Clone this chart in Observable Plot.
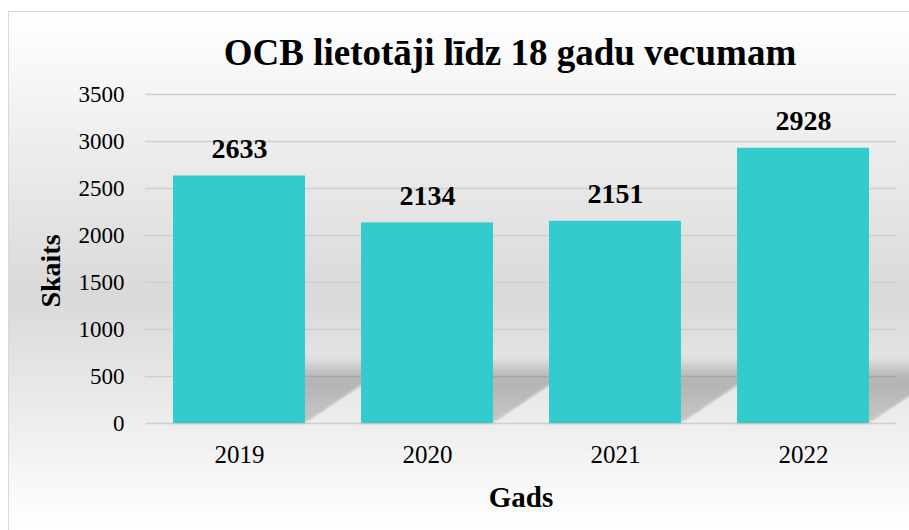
<!DOCTYPE html>
<html><head><meta charset="utf-8">
<script src="https://cdn.jsdelivr.net/npm/d3@7"></script>
<script src="https://cdn.jsdelivr.net/npm/@observablehq/plot@0.6"></script>
<style>
html,body{margin:0;padding:0;width:909px;height:530px;overflow:hidden;background:#fff;}
#frame{position:absolute;left:8px;top:11px;width:920px;height:519px;box-sizing:border-box;border-left:1px solid #d9d9d9;border-top:1px solid #d9d9d9;background:linear-gradient(to bottom,#ffffff 0%,#d9d9d9 55%,#ffffff 100%);}
#title{position:absolute;left:10px;top:34px;width:1000px;text-align:center;font-family:"Liberation Serif","Times New Roman",serif;font-weight:bold;font-size:37px;line-height:37px;color:#000;white-space:nowrap;}
#chart{position:absolute;left:0;top:80px;}
</style>
</head><body>
<div id="frame"></div>
<div id="title">OCB lietotāji līdz 18 gadu vecumam</div>
<div id="chart"></div>
<script>
const years = ["2019", "2020", "2021", "2022"];
const counts = [2633, 2134, 2151, 2928];
const yTicks = [0, 500, 1000, 1500, 2000, 2500, 3000, 3500];
const xTitle = "Gads";
const yTitle = "Skaits";
const shadowHeight = 700; // styling: height of the floor shadow in data units

const data = years.map((year, i) => ({year, count: counts[i]}));

const plot = Plot.plot({
  width: 909,
  height: 450,
  marginTop: 14,
  marginBottom: 107,
  marginLeft: 145,
  marginRight: 13,
  style: {background: "transparent", fontFamily: "'Liberation Serif','Times New Roman',serif", color: "#000", overflow: "visible"},
  x: {domain: years, paddingInner: 0.3, paddingOuter: 0.14, label: null},
  y: {domain: [0, 3500], label: null},
  marks: [
    Plot.gridY(yTicks, {stroke: "#cfcfcf", strokeOpacity: 1, strokeWidth: 1.3}),
    Plot.barY(data, {x: "year", y1: () => 0, y2: () => shadowHeight, fill: "url(#shadowGrad)"}),
    Plot.barY(data, {x: "year", y: "count", fill: "#33CCCC"}),
    Plot.text(data, {x: "year", y: "count", text: d => String(d.count), dy: -18, lineAnchor: "bottom", fontSize: 28, fontWeight: "bold", fill: "#000"}),
    Plot.axisY(yTicks, {tickSize: 0, tickPadding: 21, fontSize: 23, tickFormat: d => String(d), label: null}),
    Plot.axisX({tickSize: 0, tickPadding: 22, fontSize: 25, label: null}),
    Plot.text([yTitle], {text: d => d, frameAnchor: "left", textAnchor: "middle", dx: -94, dy: 12, rotate: -90, lineAnchor: "middle", fontSize: 28, fontWeight: "bold", fill: "#000"}),
    Plot.text([xTitle], {text: d => d, frameAnchor: "bottom", textAnchor: "middle", dy: 83, lineAnchor: "bottom", fontSize: 29, fontWeight: "bold", fill: "#000"})
  ]
});

const svg = d3.select(plot);
const defs = svg.insert("defs", ":first-child");
const grad = defs.append("linearGradient").attr("id", "shadowGrad").attr("x1", 0).attr("y1", 0).attr("x2", 0).attr("y2", 1);
[[0, 0], [0.28, 0.2], [0.4, 0.22], [1, 0.16]].forEach(([o, a]) => {
  grad.append("stop").attr("offset", o).attr("stop-color", "#000").attr("stop-opacity", a);
});
defs.append("filter").attr("id", "shadowBlur").attr("x", "-20%").attr("y", "-20%").attr("width", "140%").attr("height", "140%")
  .append("feGaussianBlur").attr("stdDeviation", 2);

const y0 = plot.scale("y").apply(0);
let el = plot.querySelector('[fill="url(#shadowGrad)"]');
if (el) {
  if (el.tagName.toLowerCase() === "rect") el = el.parentNode;
  const existing = el.getAttribute("transform") || "";
  el.setAttribute("transform", `translate(0,${y0}) skewX(-56) translate(0,${-y0}) ${existing}`);
  el.setAttribute("filter", "url(#shadowBlur)");
}

document.getElementById("chart").appendChild(plot);
</script>
</body></html>
